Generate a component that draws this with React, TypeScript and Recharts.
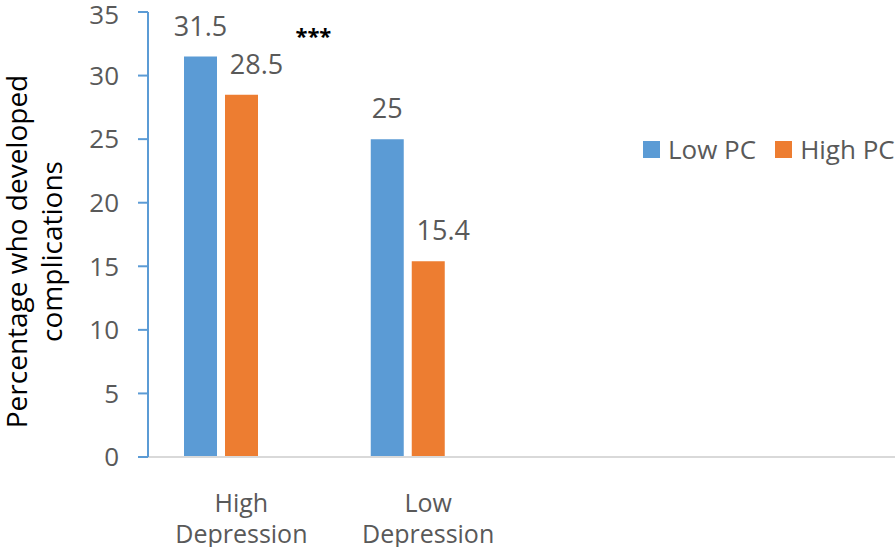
import React from 'react'
import {
  BarChart,
  Bar,
  XAxis,
  YAxis,
  LabelList,
  ReferenceDot,
} from 'recharts'

const categories = ['High Depression', 'Low Depression', '', ' ']
const lowPC = [31.5, 25, null, null]
const highPC = [28.5, 15.4, null, null]
const sigSpacer = [0, 0, null, null]
const yTicks = [0, 5, 10, 15, 20, 25, 30, 35]
const seriesNames = ['Low PC', 'High PC']

const FONT = '"Open Sans", sans-serif'
const TEXT = '#595959'
const BLUE = '#5b9bd5'
const ORANGE = '#ed7d31'

const data = categories.map((name, i) => ({
  name,
  low: lowPC[i],
  high: highPC[i],
  sig: sigSpacer[i],
}))

// eslint-disable-next-line @typescript-eslint/no-explicit-any
function CategoryTick({ x, y, payload }: any) {
  const words = String(payload.value).trim().split(' ').filter(Boolean)
  return (
    <text x={x} y={y} textAnchor="middle" fill={TEXT} fontSize={25} fontFamily={FONT}>
      {words.map((w: string, i: number) => (
        <tspan key={i} x={x} y={y + (i === 0 ? 47 : 78)}>
          {w}
        </tspan>
      ))}
    </text>
  )
}

function LegendBox() {
  const colors = [BLUE, ORANGE]
  return (
    <div
      style={{
        position: 'absolute',
        left: 643,
        top: 131,
        display: 'flex',
        alignItems: 'center',
        fontFamily: FONT,
        fontSize: 26,
        color: TEXT,
        whiteSpace: 'nowrap',
      }}
    >
      {seriesNames.map((label, i) => (
        <div key={label} style={{ display: 'flex', alignItems: 'center', marginRight: 19 }}>
          <span style={{ width: 17, height: 17, background: colors[i], display: 'inline-block', marginRight: 8 }} />
          <span>{label}</span>
        </div>
      ))}
    </div>
  )
}

// eslint-disable-next-line @typescript-eslint/no-explicit-any
function SigLabel({ viewBox }: any) {
  return (
    <text
      x={viewBox.x + 72}
      y={viewBox.y + 32}
      textAnchor="middle"
      fill="#000"
      fontSize={22}
      fontWeight="bold"
      fontFamily={FONT}
    >
      ***
    </text>
  )
}

// eslint-disable-next-line @typescript-eslint/no-explicit-any
function YTitle({ viewBox }: any) {
  const cy = viewBox.y + viewBox.height / 2 + 17
  return (
    <text
      transform={`translate(0, ${cy}) rotate(-90)`}
      textAnchor="middle"
      fill="#000"
      fontSize={28}
      fontFamily={FONT}
    >
      <tspan x={0} y={27}>Percentage who developed</tspan>
      <tspan x={0} y={62}>complications</tspan>
    </text>
  )
}

export default function App() {
  return (
    <div style={{ position: 'absolute', left: 0, top: 0, width: 895, height: 547, background: '#fff' }}>
      <BarChart
        width={895}
        height={547}
        data={data}
        margin={{ top: 12, right: 0, left: 0, bottom: 0 }}
        barSize={33}
        barGap={8}
      >
        <XAxis
          dataKey="name"
          height={90}
          axisLine={{ stroke: '#d9d9d9', strokeWidth: 2 }}
          tickLine={false}
          tick={<CategoryTick />}
          interval={0}
        />
        <YAxis
          width={148}
          domain={[0, 35]}
          ticks={yTicks}
          axisLine={{ stroke: BLUE, strokeWidth: 2 }}
          tickLine={{ stroke: BLUE, strokeWidth: 2 }}
          tickSize={10}
          tickMargin={19}
          tick={{ fill: TEXT, fontSize: 26, fontFamily: FONT }}
          label={{ value: 'Percentage who developed complications', content: <YTitle /> }}
        />
        <Bar dataKey="low" name="Low PC" fill={BLUE} isAnimationActive={false}>
          <LabelList dataKey="low" position="top" offset={21} fill={TEXT} fontSize={27} fontFamily={FONT} />
        </Bar>
        <Bar dataKey="high" name="High PC" fill={ORANGE} isAnimationActive={false}>
          <LabelList dataKey="high" position="top" offset={21} dx={15} fill={TEXT} fontSize={27} fontFamily={FONT} />
        </Bar>
        <Bar dataKey="sig" fill="transparent" legendType="none" isAnimationActive={false} />
        <ReferenceDot x="High Depression" y={35} r={0} fill="none" stroke="none" label={<SigLabel />} />
      </BarChart>
      <LegendBox />
    </div>
  )
}
